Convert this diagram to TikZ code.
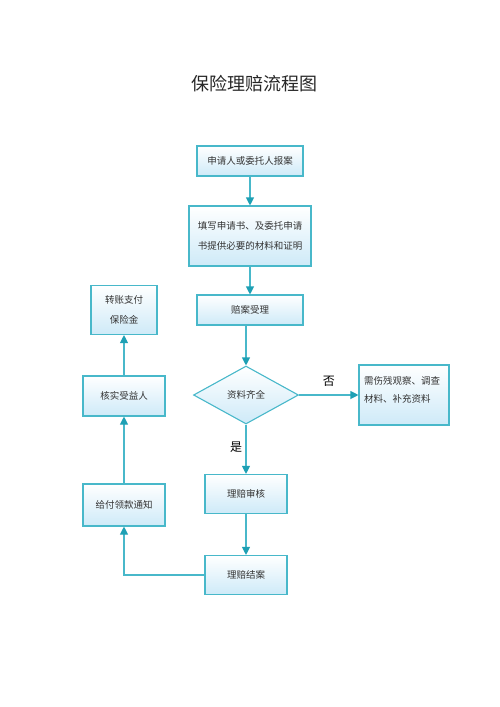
\documentclass[tikz,border=0pt]{standalone}
\usepackage{fontspec}
\setmainfont{Noto Sans CJK SC}
\usepackage{tikz}
\usetikzlibrary{arrows.meta,shapes.geometric}

\definecolor{flowline}{RGB}{72,184,202}
\definecolor{flowtip}{RGB}{30,160,180}
\definecolor{boxbottom}{RGB}{206,234,248}

\begin{document}
\begin{tikzpicture}[x=1pt, y=-1pt, font=\fontsize{9.5}{20}\selectfont,
  stepbox/.style={draw=flowline, line width=1.1pt, top color=white, bottom color=boxbottom,
                  text=black!80, align=center, inner sep=2pt},
  flow/.style={draw=flowline, line width=1.1pt, -{Triangle[length=8pt, width=8pt, color=flowtip]}}]
  \useasboundingbox (0,0) rectangle (500,707);

  % Title
  \node[font=\fontsize{18}{20}\selectfont, text=black!85] (title) at (254,84) {保险理赔流程图};

  % Main column
  \node[stepbox, minimum width=106pt, minimum height=30pt] (report) at (250,161) {申请人或委托人报案};
  \node[stepbox, minimum width=122pt, minimum height=60pt] (fill) at (250,236) {填写申请书、及委托申请\\书提供必要的材料和证明};
  \node[stepbox, minimum width=106pt, minimum height=30pt] (accept) at (250,310) {赔案受理};
  \node[diamond, draw=flowline, line width=1.1pt, top color=white, bottom color=boxbottom, text=black!80,
        minimum width=105pt, minimum height=58pt, inner sep=0pt] (check) at (246,395) {资料齐全};
  \node[stepbox, minimum width=90pt, minimum height=60pt, inner sep=0pt] (extra) at (404,395)
        {\parbox[t][56pt][t]{80pt}{\vspace{9pt}\fontsize{9.5}{18}\selectfont 需伤残观察、调查\\材料、补充资料}};
  \node[stepbox, minimum width=82pt, minimum height=39pt] (review) at (246,494) {理赔审核};
  \node[stepbox, minimum width=82pt, minimum height=39pt] (close) at (246,575) {理赔结案};

  % Left column
  \node[stepbox, minimum width=82pt, minimum height=42pt] (notice) at (124,505) {给付领款通知};
  \node[stepbox, minimum width=82pt, minimum height=40pt] (verify) at (124,396) {核实受益人};
  \node[stepbox, minimum width=66pt, minimum height=49pt] (pay) at (124,310) {转账支付\\保险金};

  % Connectors
  \draw[flow] (report) -- (fill);
  \draw[flow] (fill) -- (accept);
  \draw[flow] (accept.south -| check.north) -- (check);
  \draw[flow] (check.east) -- node[above=5pt, pos=0.5, font=\fontsize{12}{12}\selectfont] (no) {否} (extra.west);
  \draw[flow] (check.south) -- node[left=0pt, pos=0.45, font=\fontsize{12}{12}\selectfont] (yes) {是} (review.north);
  \draw[flow] (review) -- (close);
  \draw[flow] (close.west) -| (notice.south);
  \draw[flow] (notice) -- (verify);
  \draw[flow] (verify) -- (pay);
\end{tikzpicture}
\end{document}
